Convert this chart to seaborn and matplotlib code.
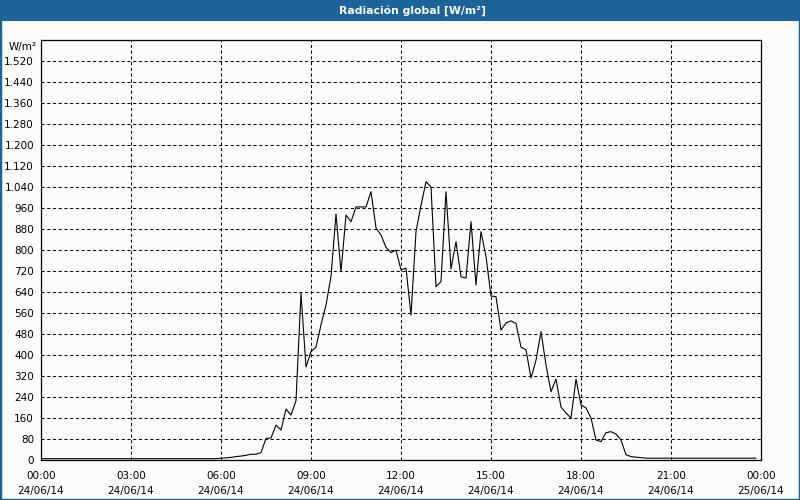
import numpy as np
import pandas as pd
import matplotlib
matplotlib.use("Agg")
import matplotlib.pyplot as plt
import matplotlib.dates as mdates
from matplotlib.patches import Rectangle
from matplotlib.ticker import FixedLocator, FuncFormatter
import seaborn as sns

# ---------------- data ----------------
start_time = "2014-06-24 00:00"
radiation = [
    # 00:00 - 05:50
    5, 5, 5, 5, 5, 5,
    5, 5, 5, 5, 5, 5,
    5, 5, 5, 5, 5, 5,
    5, 5, 5, 5, 5, 5,
    5, 5, 5, 5, 5, 5,
    5, 5, 5, 5, 5, 5,
    # 06:00 - 06:50
    7, 8, 10, 13, 15, 18,
    # 07:00 - 07:50
    22, 22, 28, 82, 84, 133,
    # 08:00 - 08:50
    114, 194, 171, 226, 635, 354,
    # 09:00 - 09:50
    413, 430, 515, 590, 700, 937,
    # 10:00 - 10:50
    717, 933, 908, 964, 964, 964,
    # 11:00 - 11:50
    1022, 884, 857, 810, 790, 800,
    # 12:00 - 12:50
    724, 731, 552, 870, 970, 1060,
    # 13:00 - 13:50
    1040, 660, 680, 1022, 728, 832,
    # 14:00 - 14:50
    698, 693, 908, 667, 870, 775,
    # 15:00 - 15:50
    625, 622, 495, 522, 530, 520,
    # 16:00 - 16:50
    430, 420, 312, 380, 489, 362,
    # 17:00 - 17:50
    260, 308, 202, 179, 160, 308,
    # 18:00 - 18:50
    210, 198, 160, 76, 70, 104,
    # 19:00 - 19:50
    108, 99, 76, 20, 13, 11,
    # 20:00 - 20:50
    9, 7, 7, 7, 7, 7,
    # 21:00 - 21:50
    7, 7, 7, 7, 7, 7,
    # 22:00 - 22:50
    7, 7, 7, 7, 7, 7,
    # 23:00 - 23:50
    7, 7, 7, 7, 7, 7,
]
y_ticks = [0, 80, 160, 240, 320, 400, 480, 560, 640, 720, 800, 880, 960,
           1040, 1120, 1200, 1280, 1360, 1440, 1520]
x_tick_labels = ["00:00\n24/06/14", "03:00\n24/06/14", "06:00\n24/06/14",
                 "09:00\n24/06/14", "12:00\n24/06/14", "15:00\n24/06/14",
                 "18:00\n24/06/14", "21:00\n24/06/14", "00:00\n25/06/14"]
title = "Radiación global [W/m²]"
unit_label = "W/m²"

times = pd.date_range(start_time, periods=len(radiation), freq="10min")
df = pd.DataFrame({"time": times, "value": radiation})

# ---------------- style ----------------
sns.set_style("white")
plt.rcParams["font.family"] = ["DejaVu Sans"]
BLUE = "#1c6399"
BG = "#fbfdfb"

fig = plt.figure(figsize=(8, 5), dpi=100, facecolor=BG)
W, H = 800, 500

# title bar
fig.patches.append(Rectangle((0, 1 - 21 / H), 1, 21 / H, transform=fig.transFigure,
                             facecolor=BLUE, edgecolor="none", zorder=0))
# outer border
fig.patches.append(Rectangle((0, 0), 1, 1, transform=fig.transFigure,
                             facecolor="none", edgecolor=BLUE, linewidth=2.5, zorder=5))
fig.text(412 / W, 1 - 10.5 / H, title, color="white", fontsize=7.8, fontweight="bold",
         ha="center", va="center")

ax = fig.add_axes([41 / W, 40 / H, 720 / W, 420 / H])
ax.set_facecolor(BG)

sns.lineplot(data=df, x="time", y="value", ax=ax, color="black", linewidth=0.8)

x0 = pd.Timestamp("2014-06-24 00:00")
x1 = pd.Timestamp("2014-06-25 00:00")
ax.set_xlim(x0, x1)
ax.set_ylim(0, 1600)

major_pos = mdates.date2num(pd.date_range(x0, x1, freq="3h"))
minor_pos = mdates.date2num(pd.date_range(x0, x1, freq="1h"))
ax.xaxis.set_major_locator(FixedLocator(major_pos))
ax.xaxis.set_minor_locator(FixedLocator(minor_pos))
ax.set_xticklabels(x_tick_labels)
ax.yaxis.set_major_locator(FixedLocator(y_ticks))
ax.yaxis.set_major_formatter(FuncFormatter(lambda v, p: f"{int(v):,}".replace(",", ".")))

ax.tick_params(axis="both", which="both", direction="out", length=3, width=0.75,
               colors="black", labelsize=7.5, pad=2)
ax.tick_params(axis="x", which="major", pad=5)
for lab in ax.get_xticklabels():
    lab.set_linespacing(1.6)

ax.grid(True, which="major", color="black", linestyle=(0, (3, 2.5)), linewidth=0.75)
ax.set_axisbelow(True)
for s in ax.spines.values():
    s.set_visible(True)
    s.set_color("black")
    s.set_linewidth(0.9)

ax.set_xlabel("")
ax.set_ylabel("")

fig.text(37 / W, 1 - 47 / H, unit_label, fontsize=7.5, ha="right", va="center",
         color="black")

fig.savefig("out.png", dpi=100, facecolor=BG)
